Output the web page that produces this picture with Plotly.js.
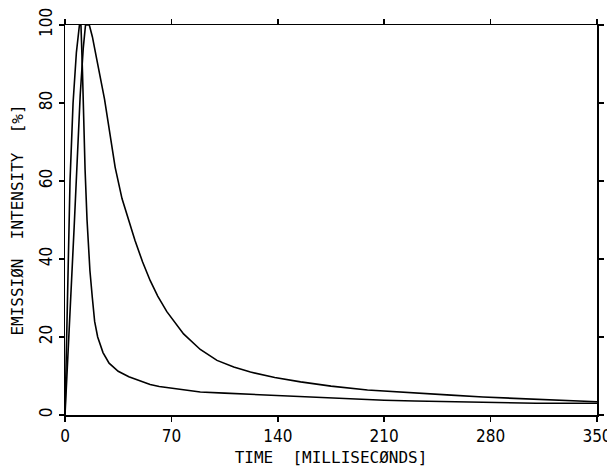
<!DOCTYPE html>
<html>
<head>
<meta charset="utf-8">
<script src="https://cdn.plot.ly/plotly-3.0.1.min.js"></script>
<style>html,body{margin:0;padding:0;background:#fff;}#chart{width:607px;height:467px;}</style>
</head>
<body>
<div id="chart"></div>
<script>
// Fast-decaying emission curve (time in ms, intensity in %)
var fastTime = [0, 1, 2, 3.3, 5.3, 7.5, 9.5, 10.5, 11.5, 12, 13.2, 14.5, 16.4, 18, 19.5, 21.5, 25, 29, 35, 42, 50, 56, 62, 75, 89, 105, 122, 145, 166, 190, 210, 230, 255, 280, 310, 330, 350];
var fastValue = [0, 18, 37, 60, 80, 93, 100, 100, 88, 80, 63, 50, 37, 30, 24, 20, 16, 13.3, 11.2, 9.8, 8.6, 7.8, 7.3, 6.6, 5.9, 5.6, 5.3, 4.9, 4.5, 4.1, 3.8, 3.6, 3.4, 3.2, 3.0, 3.0, 3.0];

// Slow-decaying emission curve
var slowTime = [0, 2, 4, 6, 8, 10, 12, 13.5, 16, 18, 21, 24, 26, 29, 33, 37.5, 41, 46, 51, 56, 61, 67, 78, 89, 100, 111, 122, 138, 155, 175, 199, 225, 254, 275, 298, 320, 350];
var slowValue = [0, 18, 32, 48, 64, 82, 94, 100, 100, 97, 91, 85, 81, 73.5, 63.5, 55.5, 51, 44.8, 39.3, 34.5, 30.5, 26.5, 20.8, 16.8, 14, 12.3, 11, 9.6, 8.5, 7.4, 6.4, 5.7, 5.1, 4.6, 4.2, 3.8, 3.4];

var xTicks = [0, 70, 140, 210, 280, 350];
var yTicks = [0, 20, 40, 60, 80, 100];

var xTitle = 'TIME  [MILLISECØNDS]';
var yTitle = 'EMISSIØN  INTENSITY  [%]';

var lineStyle = {color: '#000', width: 1.6};
var traces = [
  {x: fastTime, y: fastValue, mode: 'lines', line: lineStyle, hoverinfo: 'skip'},
  {x: slowTime, y: slowValue, mode: 'lines', line: lineStyle, hoverinfo: 'skip'}
];

var tickFont = {family: '"Liberation Sans Narrow", "DejaVu Sans Condensed", sans-serif', size: 17, color: '#000'};
var titleFont = {family: '"DejaVu Sans Mono", monospace', size: 16, color: '#000'};

var layout = {
  width: 607, height: 467,
  margin: {l: 65, r: 10, t: 25, b: 52},
  paper_bgcolor: '#fff', plot_bgcolor: '#fff',
  showlegend: false,
  xaxis: {
    range: [0, 350], autorange: false, tickmode: 'array', tickvals: xTicks, ticktext: xTicks.map(String),
    ticks: 'outside', ticklen: 5, tickwidth: 1.5, tickcolor: '#000',
    showline: true, linecolor: '#000', linewidth: 1.5, mirror: 'ticks',
    showgrid: false, zeroline: false, tickfont: tickFont, automargin: false,
    ticklabeloverflow: 'allow',
    title: {text: xTitle, font: titleFont, standoff: 8}
  },
  yaxis: {
    range: [0, 100], autorange: false, tickmode: 'array', tickvals: yTicks, ticktext: yTicks.map(String),
    ticks: 'outside', ticklen: 5, tickwidth: 1.5, tickcolor: '#000', tickangle: -90,
    showline: true, linecolor: '#000', linewidth: 1.5, mirror: 'ticks',
    showgrid: false, zeroline: false, tickfont: tickFont, automargin: false,
    ticklabeloverflow: 'allow',
    title: {text: yTitle, font: titleFont, standoff: 8}
  }
};

Plotly.newPlot('chart', traces, layout, {displayModeBar: false, staticPlot: true});
</script>
</body>
</html>
